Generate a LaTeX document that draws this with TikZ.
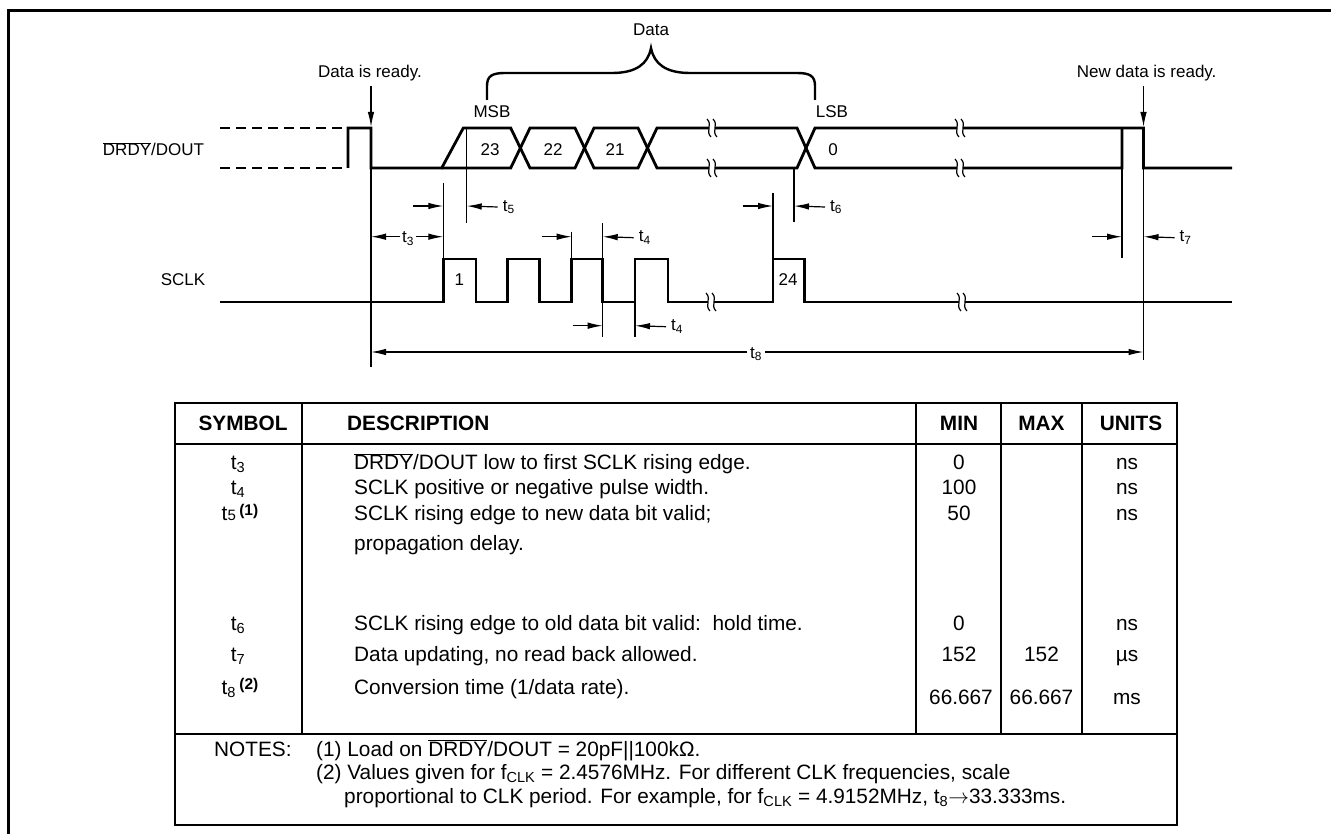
\documentclass[tikz,border=0pt]{standalone}
\usepackage{fontspec}
\setmainfont{Liberation Sans}
\usetikzlibrary{arrows.meta}

\newcommand\diagfont{\fontsize{17}{20}\selectfont}
\newcommand\tabfont{\fontsize{20.8}{25}\selectfont}
\newcommand\ovl[1]{$\overline{\mbox{#1}}$}
\newcommand\fnref[1]{\raisebox{5pt}{\fontsize{15.5}{15.5}\selectfont\bfseries (#1)}}

\tikzset{
    sig/.style={line width=2.8pt},
    guide/.style={line width=1.2pt},
    tmark/.style={line width=1.2pt, -{Latex[length=15pt,width=6.5pt]}},
    dlabel/.style={font=\diagfont, inner sep=0pt, anchor=base},
    tlabel/.style={font=\tabfont, inner sep=0pt, anchor=base},
    rule/.style={line width=2.6pt}
}

\begin{document}
\begin{tikzpicture}[x=1pt, y=-1pt]
    \useasboundingbox (0,0) rectangle (1331,834);
    \draw[line width=3pt] (1331,11) -- (8,11) -- (8,834);

    % signal names
    \node[dlabel] (dout) at (153.5,156) {\ovl{DRDY}/DOUT};
    \node[dlabel] (sclk) at (183,286) {SCLK};

    % DRDY/DOUT
    \draw[sig, dash pattern=on 10pt off 6pt] (220,128) -- (348,128);
    \draw[sig, dash pattern=on 10pt off 6pt] (220,168) -- (348,168);
    \draw[sig] (348,168) -- (348,128) -- (371,128) -- (371,168) -- (441.7,168) -- (463.3,128)
        -- (510.7,128) -- (530,168) -- (575,168) -- (594,128) -- (638,128) -- (657,168)
        -- (797,168) -- (815,128) -- (1143.5,128) -- (1143.5,168) -- (1232,168);
    \draw[sig] (441.7,168) -- (510.7,168) -- (530,128) -- (575,128) -- (594,168) -- (638,168)
        -- (657,128) -- (797,128) -- (815,168) -- (1122,168) -- (1122,128);
    \foreach \bit/\bx in {23/490, 22/553, 21/615, 0/833}
        \node[dlabel] (bit\bit) at (\bx,156) {\bit};

    % SCLK
    \draw[sig] (220,302)
        foreach \x/\xe in {443.3/476, 507.3/539.3, 571.7/602.7, 635/668}{
            -- (\x,302) -- (\x,259) -- (\xe,259) -- (\xe,302)}
        -- (773,302) -- (773,259) -- (804.3,259) -- (804.3,302) -- (1232,302);
    \node[dlabel] (clk1) at (459.3,286) {1};
    \node[dlabel] (clk24) at (788,286) {24};

    % breaks
    \foreach \bx/\by in {712/128, 712/168, 960/128, 960/168, 711/302, 962/302}{
        \fill[white] (\bx-3,\by-3) rectangle (\bx+3,\by+3);
        \foreach \dx in {-3,3}
            \draw[guide] (\bx+\dx-2,\by-9) .. controls (\bx+\dx+4,\by-3) and (\bx+\dx-4,\by+3) .. (\bx+\dx+2,\by+9);
    }

    % Data brace
    \draw[line width=2.4pt] (487,100) -- (487,86) .. controls (487,76) and (492,73) .. (505,73)
        -- (612,73) .. controls (636,73) and (648,64) .. (651,48)
        .. controls (654,64) and (666,73) .. (690,73)
        -- (797,73) .. controls (810,73) and (815,76) .. (815,86) -- (815,100);
    \node[dlabel] (data) at (651,36) {Data};
    \node[dlabel] (msb) at (492,118) {MSB};
    \node[dlabel] (lsb) at (832,118) {LSB};

    % ready markers
    \node[dlabel] (ready) at (370,77.8) {Data is ready.};
    \node[dlabel] (newready) at (1146.7,77.8) {New data is ready.};
    \draw[tmark] (371,86) -- (371,127);
    \draw[tmark] (1143.5,86) -- (1143.5,127);

    % reference lines
    \foreach \x/\ya/\yb in {371/168/367, 443.3/183/259, 466.7/128/223, 571.7/231.7/259,
                            602.7/223/336.7, 635/302/336.7, 773/193.3/259, 794/168/222,
                            1122/168/258, 1143.5/168/360}
        \draw[guide] (\x,\ya) -- (\x,\yb);

    % timing marks
    \foreach \name/\sub/\y/\xa/\xb in {t5/5/206/443.3/466.7, t4a/4/236.7/571.7/602.7,
                                        t4b/4/325.7/602.7/635, t6/6/206/773/794, t7/7/236.7/1122/1143.5}{
        \draw[tmark] (\xa-30,\y) -- (\xa,\y);
        \node[font=\diagfont, inner sep=0pt, anchor=west] (\name) at (\xb+36,\y+1) {t\textsubscript{\sub}};
        \draw[tmark] (\name.west) ++(-5,0) -- (\xb,\y);
    }
    \coordinate (t3l) at (371,236.7);
    \coordinate (t3r) at (443.3,236.7);
    \node[font=\diagfont, inner sep=1.5pt] (t3) at (408,238.5) {t\textsubscript{3}};
    \draw[tmark] (t3.west |- t3l) -- (t3l);
    \draw[tmark] (t3.east |- t3r) -- (t3r);
    \coordinate (t8l) at (371,352);
    \coordinate (t8r) at (1143.5,352);
    \node[font=\diagfont, inner sep=3pt, fill=white] (t8) at (756,354) {t\textsubscript{8}};
    \draw[tmark] (t8.west |- t8l) -- (t8l);
    \draw[tmark] (t8.east |- t8r) -- (t8r);

    % table
    \draw[rule] (175,403) rectangle (1177,825);
    \draw[rule] (175,444) -- (1177,444);
    \draw[rule] (175,734) -- (1177,734);
    \foreach \cx in {302, 916, 1001, 1082}
        \draw[rule] (\cx,403) -- (\cx,734);

    \node[tlabel] (hsym) at (243,430) {\textbf{SYMBOL}};
    \node[tlabel, anchor=base west] (hdesc) at (347,430) {\textbf{DESCRIPTION}};
    \node[tlabel] (hmin) at (959,430) {\textbf{MIN}};
    \node[tlabel] (hmax) at (1041.5,430) {\textbf{MAX}};
    \node[tlabel] (hunit) at (1131,430) {\textbf{UNITS}};

    \node[tlabel] (s3) at (238,469.5) {t\textsubscript{3}};
    \node[tlabel] (s4) at (238,494.5) {t\textsubscript{4}};
    \node[tlabel] (s5) at (240,520.5) {t{\fontsize{15}{15}\selectfont 5}\,\fnref{1}};
    \node[tlabel] (s6) at (238,630.5) {t\textsubscript{6}};
    \node[tlabel] (s7) at (238,661.5) {t\textsubscript{7}};
    \node[tlabel] (s8) at (240,694) {t\textsubscript{8}\,\fnref{2}};

    \node[tlabel, anchor=base west] (d3) at (354,469.5) {\ovl{DRDY}/DOUT low to first SCLK rising edge.};
    \node[tlabel, anchor=base west] (d4) at (354,494.5) {SCLK positive or negative pulse width.};
    \node[tlabel, anchor=base west] (d5) at (354,520.5) {SCLK rising edge to new data bit valid;};
    \node[tlabel, anchor=base west] (d5b) at (354,550.5) {propagation delay.};
    \node[tlabel, anchor=base west] (d6) at (354,630.5) {SCLK rising edge to old data bit valid:\ \ hold time.};
    \node[tlabel, anchor=base west] (d7) at (354,661.5) {Data updating, no read back allowed.};
    \node[tlabel, anchor=base west] (d8) at (354,694) {Conversion time (1/data rate).};

    \node[tlabel] (n3) at (959,469.5) {0};
    \node[tlabel] (n4) at (959,494.5) {100};
    \node[tlabel] (n5) at (959,520.5) {50};
    \node[tlabel] (n6) at (959,630.5) {0};
    \node[tlabel] (n7) at (959,661.5) {152};
    \node[tlabel] (n8) at (961,704) {66.667};
    \node[tlabel] (x7) at (1041.5,661.5) {152};
    \node[tlabel] (x8) at (1041.5,704) {66.667};
    \node[tlabel] (u3) at (1127,469.5) {ns};
    \node[tlabel] (u4) at (1127,494.5) {ns};
    \node[tlabel] (u5) at (1127,520.5) {ns};
    \node[tlabel] (u6) at (1127,630.5) {ns};
    \node[tlabel] (u7) at (1127,661.5) {µs};
    \node[tlabel] (u8) at (1127,704) {ms};

    % notes
    \node[tlabel, anchor=base west] (notes) at (214,756) {NOTES:};
    \node[tlabel, anchor=base west] (note1) at (316,756) {(1) Load on \ovl{DRDY}/DOUT = 20pF||100kΩ.};
    \node[tlabel, anchor=base west] (note2) at (316,779) {(2) Values given for f\textsubscript{CLK} = 2.4576MHz. For different CLK frequencies, scale};
    \node[tlabel, anchor=base west] (note3) at (344,803) {proportional to CLK period. For example, for f\textsubscript{CLK} = 4.9152MHz, t\textsubscript{8}$\rightarrow$33.333ms.};
\end{tikzpicture}
\end{document}
